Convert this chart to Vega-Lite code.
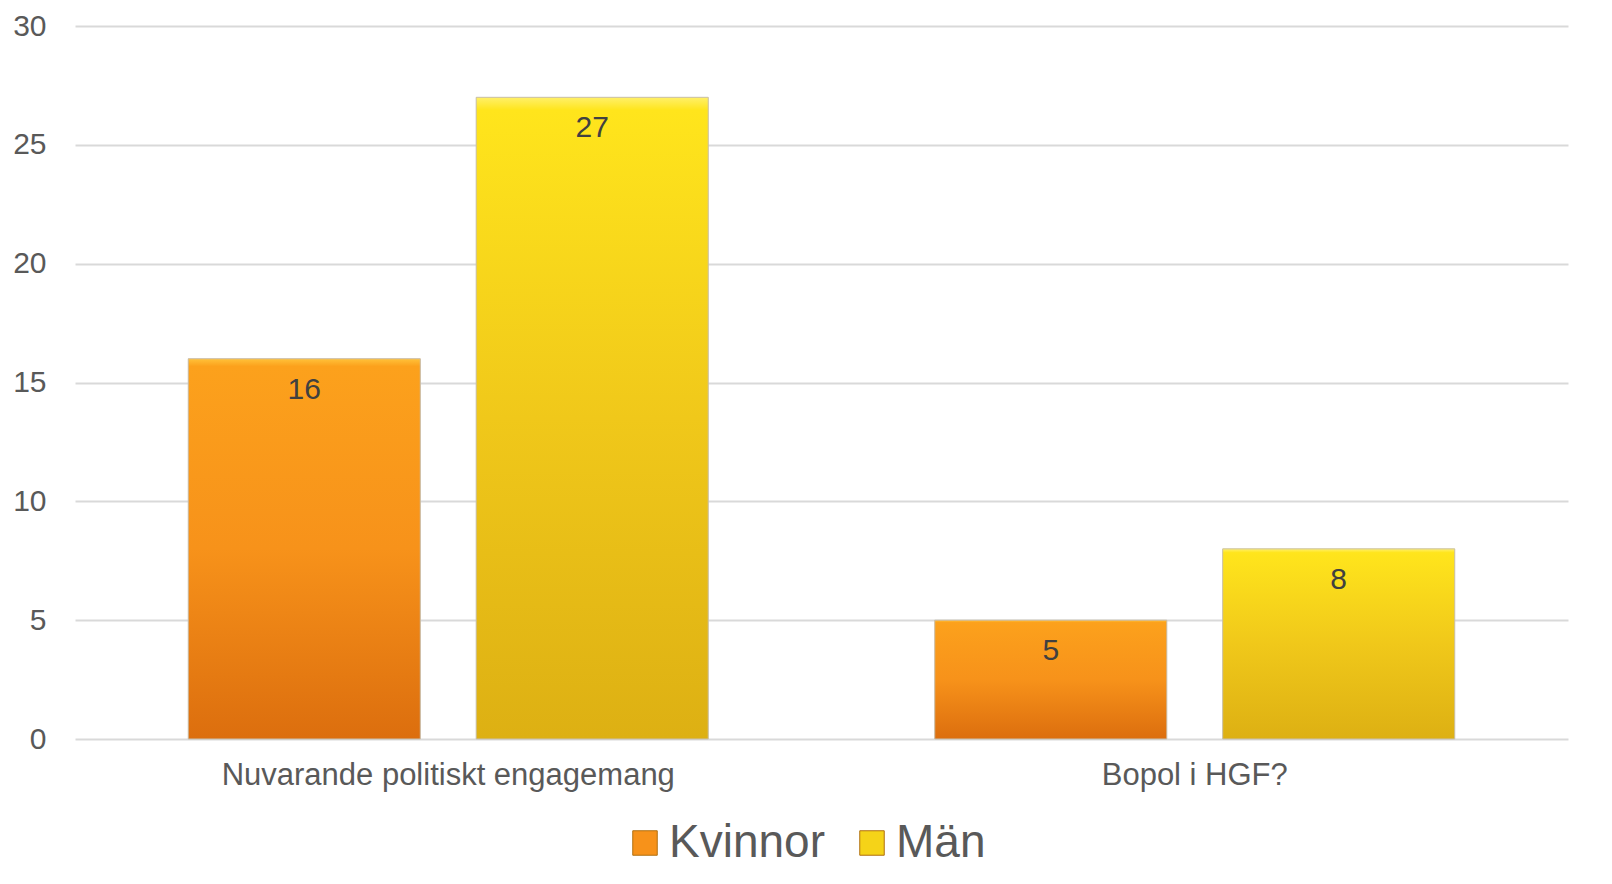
{
  "$schema": "https://vega.github.io/schema/vega-lite/v6.json",
  "width": 1493,
  "height": 713,
  "autosize": {"type": "none"},
  "padding": {"left": 75, "top": 26, "right": 44, "bottom": 145},
  "background": "white",
  "config": {
    "font": "Liberation Sans",
    "view": {"stroke": null}
  },
  "data": {
    "values": [
      {"kategori": "Nuvarande politiskt engagemang", "kon": "Kvinnor", "antal": 16},
      {"kategori": "Nuvarande politiskt engagemang", "kon": "Män", "antal": 27},
      {"kategori": "Bopol i HGF?", "kon": "Kvinnor", "antal": 5},
      {"kategori": "Bopol i HGF?", "kon": "Män", "antal": 8}
    ]
  },
  "encoding": {
    "x": {
      "field": "kategori", "type": "nominal", "sort": null,
      "scale": {"paddingInner": 0.3034, "paddingOuter": 0.1517},
      "axis": {"title": null, "labelAngle": 0, "labelFontSize": 31, "labelColor": "#595959", "labelPadding": 21, "labelLimit": 2000, "ticks": false, "domain": false}
    },
    "xOffset": {"field": "kon", "type": "nominal", "sort": ["Kvinnor", "Män"], "scale": {"paddingInner": 0.194, "paddingOuter": 0}},
    "y": {
      "field": "antal", "type": "quantitative",
      "scale": {"domain": [0, 30], "nice": false},
      "axis": {"title": null, "values": [0, 5, 10, 15, 20, 25, 30], "labelOverlap": false, "labelFontSize": 30, "labelColor": "#595959", "labelPadding": 29, "ticks": false, "domain": false, "gridColor": "#d9d9d9", "gridWidth": 2}
    }
  },
  "layer": [
    {
      "mark": {"type": "bar"},
      "encoding": {
        "color": {
          "field": "kon", "type": "nominal", "sort": ["Kvinnor", "Män"],
          "scale": {"domain": ["Kvinnor", "Män"], "range": ["#F7921A", "#F5D318"]},
          "legend": {"title": null, "orient": "none", "legendX": 547, "legendY": 794, "direction": "horizontal", "symbolType": "square", "symbolSize": 600, "symbolStrokeWidth": 1, "symbolStrokeColor": "#b07010", "labelFontSize": 46, "labelColor": "#595959", "columnPadding": 24, "labelOffset": 1}
        }
      }
    },
    {
      "transform": [{"filter": "datum.kon === 'Kvinnor'"}],
      "mark": {"type": "bar", "stroke": "#c8c0b0", "strokeWidth": 1,
        "fill": {"gradient": "linear", "x1": 0, "y1": 0, "x2": 0, "y2": 1,
          "stops": [{"offset": 0, "color": "#FFC23A"}, {"offset": 0.02, "color": "#FCA11C"}, {"offset": 0.5, "color": "#F7921A"}, {"offset": 1, "color": "#DC6E0E"}]}},
      "encoding": {}
    },
    {
      "transform": [{"filter": "datum.kon === 'Män'"}],
      "mark": {"type": "bar", "stroke": "#c8c0b0", "strokeWidth": 1,
        "fill": {"gradient": "linear", "x1": 0, "y1": 0, "x2": 0, "y2": 1,
          "stops": [{"offset": 0, "color": "#FFF06A"}, {"offset": 0.02, "color": "#FFE51C"}, {"offset": 0.5, "color": "#F0C81A"}, {"offset": 1, "color": "#DDB013"}]}},
      "encoding": {}
    },
    {
      "mark": {"type": "text", "baseline": "middle", "align": "center", "dy": 31, "fontSize": 30, "color": "#404040"},
      "encoding": {"text": {"field": "antal", "type": "quantitative"}}
    }
  ]
}
